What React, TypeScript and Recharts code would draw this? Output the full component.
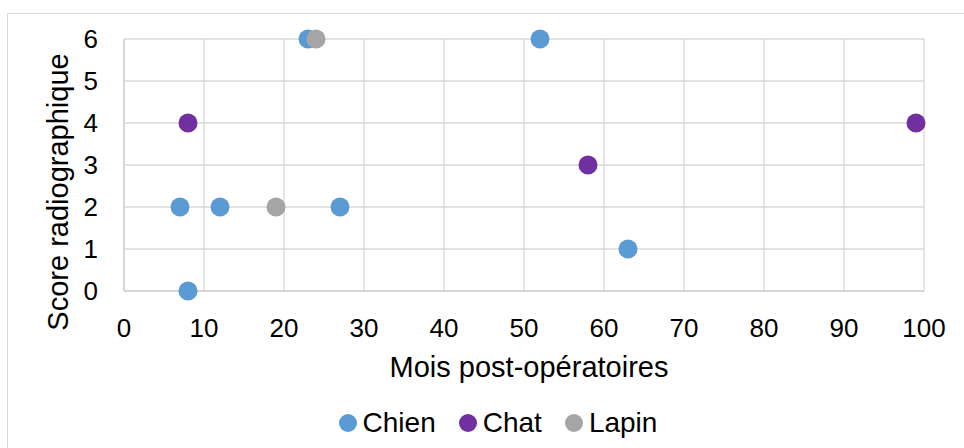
import React from 'react';
import { ScatterChart, Scatter, XAxis, YAxis, CartesianGrid, Legend } from 'recharts';

const chien = [
  { x: 7, y: 2 },
  { x: 12, y: 2 },
  { x: 8, y: 0 },
  { x: 23, y: 6 },
  { x: 27, y: 2 },
  { x: 52, y: 6 },
  { x: 63, y: 1 },
];
const chat = [
  { x: 8, y: 4 },
  { x: 58, y: 3 },
  { x: 99, y: 4 },
];
const lapin = [
  { x: 19, y: 2 },
  { x: 24, y: 6 },
];
const xTicks = [0, 10, 20, 30, 40, 50, 60, 70, 80, 90, 100];
const yTicks = [0, 1, 2, 3, 4, 5, 6];
const seriesNames = ['Chien', 'Chat', 'Lapin'];
const seriesColors = ['#5B9BD5', '#7030A0', '#A5A5A5'];

const FONT = '"Liberation Sans", Arial, sans-serif';

const LegendContent = () => (
  <div style={{ display: 'flex', justifyContent: 'center', alignItems: 'center', fontFamily: FONT, fontSize: 28, color: '#000', paddingLeft: 32 }}>
    {seriesNames.map((n, i) => (
      <div key={n} style={{ display: 'flex', alignItems: 'center', marginLeft: i === 0 ? 0 : 23 }}>
        <span style={{ display: 'inline-block', width: 18, height: 18, borderRadius: 9, background: seriesColors[i], marginRight: 6 }} />
        <span>{n}</span>
      </div>
    ))}
  </div>
);

const makeDot = (color: string) => (p: any) => <circle cx={p.cx} cy={p.cy} r={9.5} fill={color} />;

export default function App() {
  return (
    <div style={{ position: 'absolute', left: 0, top: 0, width: 964, height: 448, overflow: 'hidden', background: '#fff' }}>
      <div style={{ position: 'absolute', left: 7, top: 13, width: 1100, height: 600, border: '1px solid #d9d9d9' }} />
      <div style={{ position: 'absolute', left: 0, top: 0 }}>
        <ScatterChart width={964} height={448} margin={{ top: 39, right: 40, left: 0, bottom: 0 }}>
          <CartesianGrid stroke="#d9d9d9" strokeWidth={1.3} />
          <XAxis
            type="number"
            dataKey="x"
            domain={[0, 100]}
            ticks={xTicks}
            interval={0}
            height={157}
            tickLine={false}
            tickSize={6}
            tickMargin={22}
            axisLine={{ stroke: '#d0d0d0', strokeWidth: 1.3 }}
            tick={{ fill: '#000', fontSize: 26, fontFamily: FONT }}
            label={{
              content: (p: any) => {
                const vb = p.viewBox;
                return (
                  <text x={vb.x + vb.width / 2 + 5} y={vb.y + 86} textAnchor="middle" fill="#000" fontSize={29} fontFamily={FONT}>
                    Mois post-opératoires
                  </text>
                );
              },
            }}
          />
          <YAxis
            type="number"
            dataKey="y"
            domain={[0, 6]}
            ticks={yTicks}
            interval={0}
            width={124}
            tickLine={false}
            tickSize={6}
            tickMargin={20}
            axisLine={{ stroke: '#d0d0d0', strokeWidth: 1.3 }}
            tick={{ fill: '#000', fontSize: 26, fontFamily: FONT }}
            label={{
              content: (p: any) => {
                const vb = p.viewBox;
                const cx = vb.x + 68;
                const cy = vb.y + vb.height / 2 + 27;
                return (
                  <text x={cx} y={cy} textAnchor="middle" fill="#000" fontSize={29} fontFamily={FONT} transform={`rotate(-90, ${cx}, ${cy})`}>
                    Score radiographique
                  </text>
                );
              },
            }}
          />
          <Legend verticalAlign="middle" layout="horizontal" wrapperStyle={{ top: 407, left: 0, width: 964 }} content={<LegendContent />} />
          <Scatter name={seriesNames[0]} data={chien} fill={seriesColors[0]} shape={makeDot(seriesColors[0])} isAnimationActive={false} />
          <Scatter name={seriesNames[1]} data={chat} fill={seriesColors[1]} shape={makeDot(seriesColors[1])} isAnimationActive={false} />
          <Scatter name={seriesNames[2]} data={lapin} fill={seriesColors[2]} shape={makeDot(seriesColors[2])} isAnimationActive={false} />
        </ScatterChart>
      </div>
    </div>
  );
}
